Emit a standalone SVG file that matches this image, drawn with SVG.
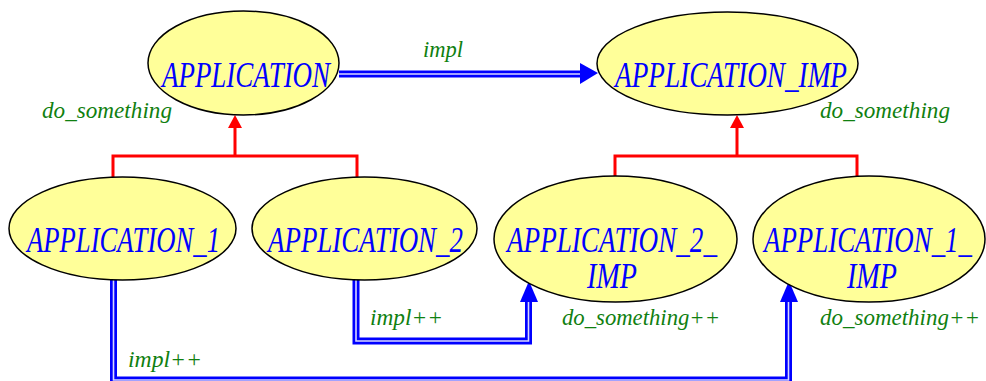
<svg xmlns="http://www.w3.org/2000/svg" width="986" height="381" viewBox="0 0 986 381">
<style>
.node ellipse{fill:#ffff99;stroke:#000;stroke-width:1.5}
.nt{font-family:"Liberation Serif","Times New Roman",serif;font-style:italic;font-size:35px;fill:#0000ff}
.lb{font-family:"Liberation Serif","Times New Roman",serif;font-style:italic;font-size:23px;fill:#108010}
.inh{fill:none;stroke:#ff0000;stroke-width:3}
.cl-o{fill:none;stroke:#0000ff;stroke-width:7}
.cl-i{fill:none;stroke:#d8d8ff;stroke-width:1.6}
</style>
<rect width="986" height="381" fill="#fff"/>
<g id="connectors">
  <path class="inh" d="M113,177 V156 H357 V177 M235,156 V126"/>
  <polygon points="235,115 228,128 242,128" fill="#ff0000"/>
  <path class="inh" d="M615,176 V156 H857 V177 M737,156 V126"/>
  <polygon points="737,115 730,128 744,128" fill="#ff0000"/>
  <path class="cl-o" d="M339,74 H584"/>
  <path class="cl-i" d="M339,74 H584"/>
  <polygon points="598,73 580,63 580,84" fill="#0000ff"/>
  <path class="cl-o" d="M356,280 V341 H528.5 V300"/>
  <path class="cl-i" d="M356,280 V341 H528.5 V300"/>
  <polygon points="529,281 520,302 538,302" fill="#0000ff"/>
  <path class="cl-o" d="M113.5,280 V380 H788.5 V300"/>
  <path class="cl-i" d="M113.5,280 V380 H788.5 V300"/>
  <polygon points="789,281 780,302 798,302" fill="#0000ff"/>
  <text class="lb" x="423" y="57" textLength="40" lengthAdjust="spacingAndGlyphs">impl</text>
  <text class="lb" x="370" y="325" textLength="73" lengthAdjust="spacingAndGlyphs">impl++</text>
  <text class="lb" x="128" y="367" textLength="74" lengthAdjust="spacingAndGlyphs">impl++</text>
</g>
<g id="APPLICATION" class="node">
  <ellipse cx="243.5" cy="63" rx="95.5" ry="52"/>
  <text class="nt" x="162" y="87" textLength="168" lengthAdjust="spacingAndGlyphs">APPLICATION</text>
  <text class="lb" x="42" y="118" textLength="130" lengthAdjust="spacingAndGlyphs">do_something</text>
</g>
<g id="APPLICATION_IMP" class="node">
  <ellipse cx="727.5" cy="63.5" rx="130.5" ry="51.5"/>
  <text class="nt" x="615" y="87" textLength="232" lengthAdjust="spacingAndGlyphs">APPLICATION_IMP</text>
  <text class="lb" x="820" y="118" textLength="130" lengthAdjust="spacingAndGlyphs">do_something</text>
</g>
<g id="APPLICATION_1" class="node">
  <ellipse cx="122.5" cy="228.5" rx="113.5" ry="51.5"/>
  <text class="nt" x="27" y="252" textLength="193" lengthAdjust="spacingAndGlyphs">APPLICATION_1</text>
</g>
<g id="APPLICATION_2" class="node">
  <ellipse cx="364.5" cy="228.5" rx="112.5" ry="51.5"/>
  <text class="nt" x="268" y="252" textLength="195" lengthAdjust="spacingAndGlyphs">APPLICATION_2</text>
</g>
<g id="APPLICATION_2_IMP" class="node">
  <ellipse cx="615.5" cy="239" rx="121.5" ry="63"/>
  <text class="nt" x="507" y="252" textLength="210" lengthAdjust="spacingAndGlyphs">APPLICATION_2_</text>
  <text class="nt" x="587" y="288" textLength="50" lengthAdjust="spacingAndGlyphs">IMP</text>
  <text class="lb" x="562" y="325" textLength="158" lengthAdjust="spacingAndGlyphs">do_something++</text>
</g>
<g id="APPLICATION_1_IMP" class="node">
  <ellipse cx="869" cy="239" rx="116" ry="63"/>
  <text class="nt" x="764" y="252" textLength="208" lengthAdjust="spacingAndGlyphs">APPLICATION_1_</text>
  <text class="nt" x="847" y="288" textLength="50" lengthAdjust="spacingAndGlyphs">IMP</text>
  <text class="lb" x="820" y="325" textLength="160" lengthAdjust="spacingAndGlyphs">do_something++</text>
</g>
</svg>
